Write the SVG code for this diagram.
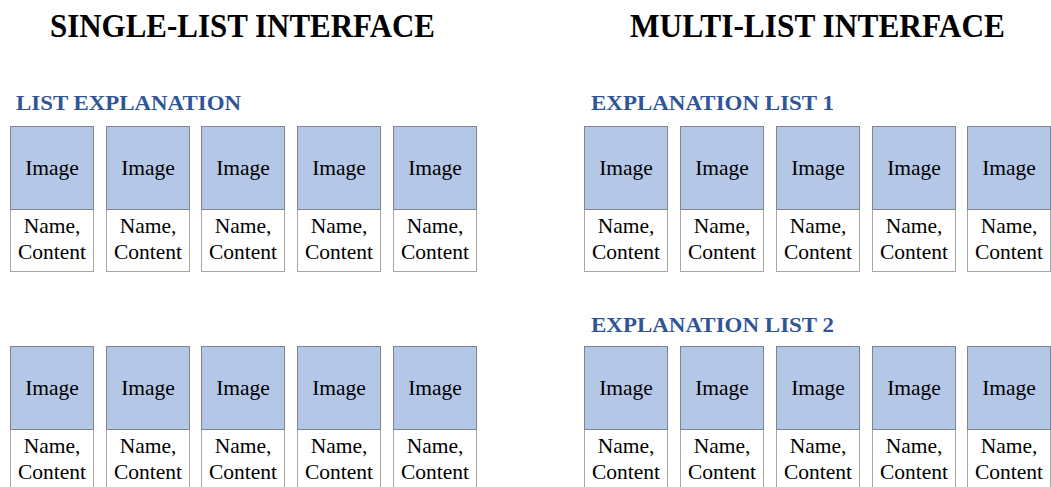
<svg xmlns="http://www.w3.org/2000/svg" width="1051" height="487" viewBox="0 0 1051 487">
<style>
.title{font-family:"Liberation Serif",serif;font-weight:bold;font-size:33px;fill:#000}
.sub{font-family:"Liberation Serif",serif;font-weight:bold;font-size:21px;fill:#2f5597}
.img{fill:#b4c7e7;stroke:#7f8491;stroke-width:1}
.txt{fill:#fff;stroke:#a6a6a6;stroke-width:1}
.lbl{font-family:"Liberation Serif",serif;font-size:21.5px;fill:#000;text-anchor:middle}
</style>
<defs>
<g id="card">
<rect class="txt" x="0.5" y="83.5" width="83" height="62"/>
<rect class="img" x="0.5" y="0.5" width="83" height="83"/>
<text class="lbl" x="42" y="49">Image</text>
<text class="lbl" x="42" y="107">Name,</text>
<text class="lbl" x="42" y="133">Content</text>
</g>
</defs>
<rect width="1051" height="487" fill="#fff"/>
<text class="title" x="50" y="37" textLength="385" lengthAdjust="spacingAndGlyphs">SINGLE-LIST INTERFACE</text>
<text class="title" x="630" y="37" textLength="375" lengthAdjust="spacingAndGlyphs">MULTI-LIST INTERFACE</text>
<text class="sub" x="16" y="110" textLength="225" lengthAdjust="spacingAndGlyphs">LIST EXPLANATION</text>
<text class="sub" x="591" y="110" textLength="243" lengthAdjust="spacingAndGlyphs">EXPLANATION LIST 1</text>
<text class="sub" x="591" y="332" textLength="243" lengthAdjust="spacingAndGlyphs">EXPLANATION LIST 2</text>
<g id="single-row1">
<use id="s1-1" href="#card" x="10" y="126"/>
<use id="s1-2" href="#card" x="106" y="126"/>
<use id="s1-3" href="#card" x="201" y="126"/>
<use id="s1-4" href="#card" x="297" y="126"/>
<use id="s1-5" href="#card" x="393" y="126"/>
</g>
<g id="single-row2">
<use id="s2-1" href="#card" x="10" y="346"/>
<use id="s2-2" href="#card" x="106" y="346"/>
<use id="s2-3" href="#card" x="201" y="346"/>
<use id="s2-4" href="#card" x="297" y="346"/>
<use id="s2-5" href="#card" x="393" y="346"/>
</g>
<g id="multi-row1">
<use id="m1-1" href="#card" x="584" y="126"/>
<use id="m1-2" href="#card" x="680" y="126"/>
<use id="m1-3" href="#card" x="776" y="126"/>
<use id="m1-4" href="#card" x="872" y="126"/>
<use id="m1-5" href="#card" x="967" y="126"/>
</g>
<g id="multi-row2">
<use id="m2-1" href="#card" x="584" y="346"/>
<use id="m2-2" href="#card" x="680" y="346"/>
<use id="m2-3" href="#card" x="776" y="346"/>
<use id="m2-4" href="#card" x="872" y="346"/>
<use id="m2-5" href="#card" x="967" y="346"/>
</g>
<g id="connectors"/>
</svg>
